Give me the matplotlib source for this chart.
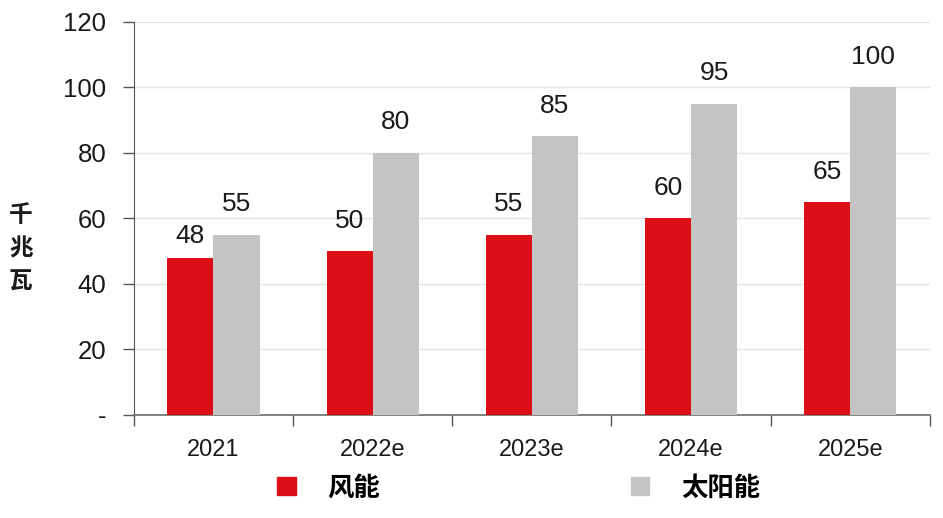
import numpy as np
import matplotlib
matplotlib.use("Agg")
import matplotlib.pyplot as plt
from matplotlib.patches import Patch

plt.rcParams["font.family"] = ["Liberation Sans", "Noto Sans CJK SC", "DejaVu Sans"]

years = ["2021", "2022e", "2023e", "2024e", "2025e"]
wind = [48, 50, 55, 60, 65]
solar = [55, 80, 85, 95, 100]
series_names = ["风能", "太阳能"]
y_ticks = [0, 20, 40, 60, 80, 100, 120]
y_tick_labels = ["-", "20", "40", "60", "80", "100", "120"]

RED = "#DC0E18"
GRAY = "#C4C4C4"
TXT = "#1a1a1a"

fig = plt.figure(figsize=(9.43, 5.18), dpi=100)
ax = fig.add_axes([0.142, 0.199, 0.844, 0.759])

x = np.arange(len(years))
w = 0.29
ax.bar(x - w / 2, wind, w, color=RED, zorder=3)
ax.bar(x + w / 2, solar, w, color=GRAY, zorder=3)

# label gap above bar (data units); the first red label sits lower in the original
wind_gap = [2.8, 5.6, 5.6, 5.6, 5.6]
for xi, v, g in zip(x, wind, wind_gap):
    ax.text(xi - w / 2, v + g, str(v), ha="center", va="bottom",
            fontsize=19, color=TXT)
for xi, v in zip(x, solar):
    ax.text(xi + w / 2, v + 5.6, str(v), ha="center", va="bottom",
            fontsize=19, color=TXT)

ax.set_xlim(-0.5, len(years) - 0.5)
ax.set_ylim(0, 120)
ax.set_yticks(y_ticks)
ax.set_yticklabels(y_tick_labels, fontsize=18.5, color=TXT)
ax.yaxis.grid(True, color="#e3e3e3", lw=1, zorder=0)

# category boundary ticks + centred labels
ax.set_xticks(np.arange(-0.5, len(years), 1.0))
ax.set_xticklabels([])
ax.set_xticks(x, minor=True)
ax.set_xticklabels(years, minor=True, fontsize=17, color=TXT)
ax.tick_params(axis="x", which="major", length=8, width=1, color="#555555", direction="out")
ax.tick_params(axis="x", which="minor", length=0, pad=17)
ax.tick_params(axis="y", length=8, width=1, color="#555555", direction="out", pad=12)

for s in ["top", "right"]:
    ax.spines[s].set_visible(False)
ax.spines["left"].set_color("#555555")
ax.spines["bottom"].set_color("#777777")
ax.spines["bottom"].set_linewidth(1.3)

fig.text(0.022, 0.521, "千\n兆\n瓦", fontsize=17, color=TXT, ha="center", va="center",
         linespacing=1.5, family=["Noto Sans CJK SC", "DejaVu Sans"], fontweight="bold")

handles = [Patch(color=RED), Patch(color=GRAY)]
fig.legend(handles, series_names, loc="center", bbox_to_anchor=(0.55, 0.058), ncol=2,
           frameon=False, handlelength=0.7, handleheight=0.7,
           handletextpad=1.2, columnspacing=9.5,
           prop={"family": ["Noto Sans CJK SC", "DejaVu Sans"], "size": 19, "weight": "bold"})

fig.savefig("out.png", dpi=100)
